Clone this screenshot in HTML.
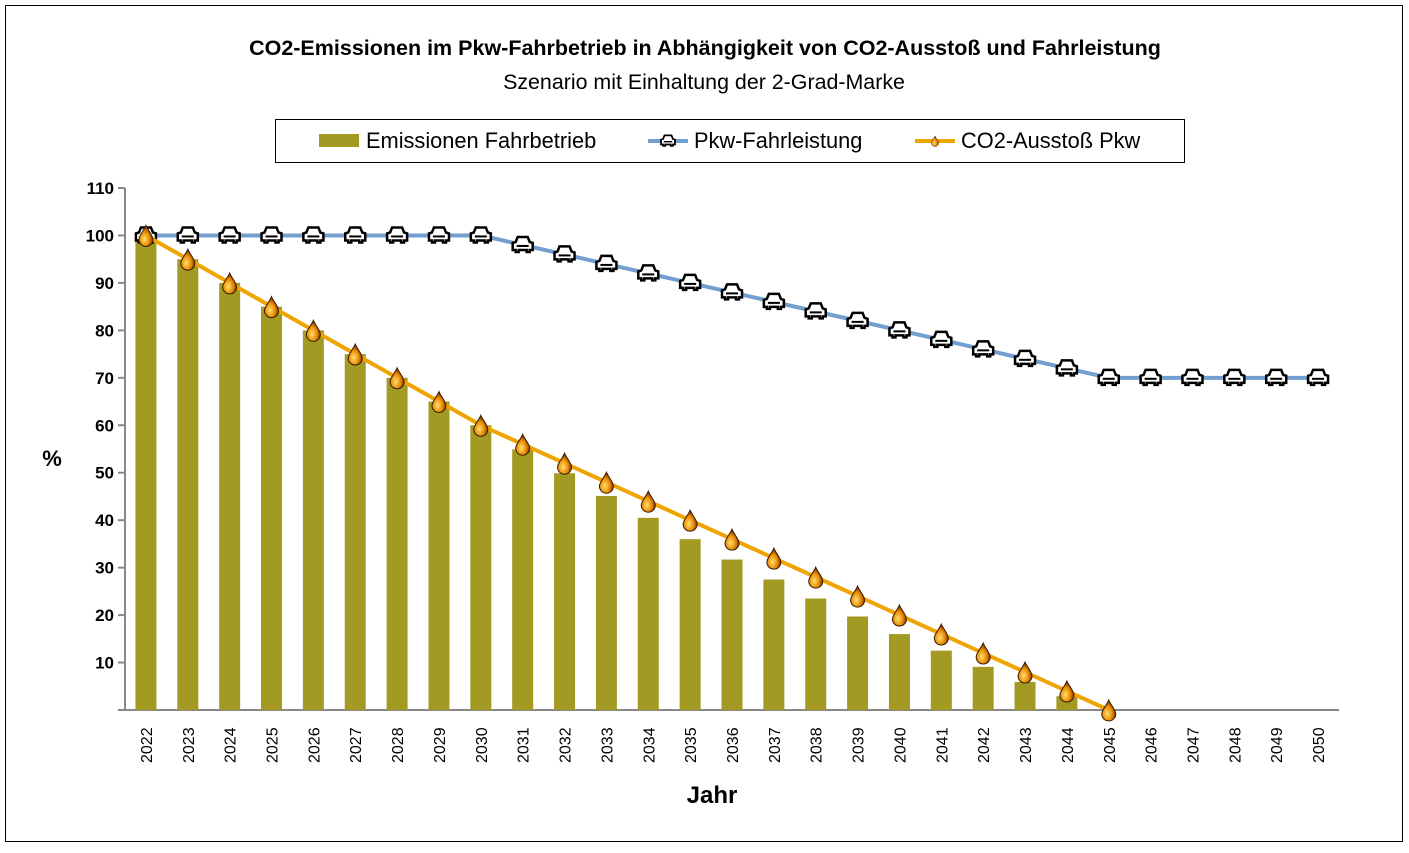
<!DOCTYPE html>
<html><head><meta charset="utf-8"><style>
body{margin:0;background:#fff;font-family:"Liberation Sans",sans-serif}
svg text{font-family:"Liberation Sans",sans-serif}
</style></head><body>
<svg width="1409" height="848" xmlns="http://www.w3.org/2000/svg">
<defs>
<radialGradient id="dropg" cx="0.4" cy="0.65" r="0.6"><stop offset="0" stop-color="#ffe070"/><stop offset="0.6" stop-color="#e88a00"/><stop offset="1" stop-color="#7a3300"/></radialGradient>
<g id="drop"><path d="M0,-10 C2,-5 7,0 7,4 A7,7 0 0 1 -7,4 C-7,0 -2,-5 0,-10Z" fill="url(#dropg)" stroke="#3a1a00" stroke-width="1"/></g>
<g id="car"><path d="M-10,5 L-10,-2 L-7,-3 L-5,-8 L5,-8 L7,-3 L10,-2 L10,5 L7,5 L7,7 L4,7 L4,5 L-4,5 L-4,7 L-7,7 L-7,5Z" fill="#fff" stroke="#000" stroke-width="2.5"/><rect x="-6" y="0" width="12" height="2" fill="#000"/></g>
</defs>
<rect x="5.5" y="5.5" width="1397" height="836" fill="#fff" stroke="#000"/>
<text x="705" y="55" text-anchor="middle" font-size="21.5" font-weight="bold">CO2-Emissionen im Pkw-Fahrbetrieb in Abhängigkeit von CO2-Ausstoß und Fahrleistung</text>
<text x="704" y="89" text-anchor="middle" font-size="21.4">Szenario mit Einhaltung der 2-Grad-Marke</text>
<g>
<rect x="275.5" y="119.5" width="909" height="43" fill="#fff" stroke="#000"/>
<g><rect x="319" y="134" width="40" height="13" fill="#a39a24"/><text x="366" y="148" font-size="21.8">Emissionen Fahrbetrieb</text></g>
<g><line x1="648" y1="141" x2="688" y2="141" stroke="#729fcf" stroke-width="4"/><use href="#car" transform="translate(668,141) scale(0.7)"/><text x="694" y="148" font-size="21.8">Pkw-Fahrleistung</text></g>
<g><line x1="915" y1="141" x2="955" y2="141" stroke="#f0a400" stroke-width="4"/><use href="#drop" transform="translate(935,141) scale(0.5)"/><text x="961" y="148" font-size="21.8">CO2-Ausstoß Pkw</text></g>
</g>
<g id="axes"></g>
<g id="bars"></g>
<g id="lines"></g>
<text x="52" y="466" text-anchor="middle" font-size="22" font-weight="bold">%</text>
<text x="712" y="803" text-anchor="middle" font-size="24" font-weight="bold">Jahr</text>
</svg>
<script>
const years=[2022,2023,2024,2025,2026,2027,2028,2029,2030,2031,2032,2033,2034,2035,2036,2037,2038,2039,2040,2041,2042,2043,2044,2045,2046,2047,2048,2049,2050];
const emissions=[100,95,90,85,80,75,70,65,60,54.9,49.9,45.1,40.5,36,31.7,27.5,23.5,19.7,16,12.5,9.1,5.9,2.9,0,null,null,null,null,null];
const fahrleistung=[100,100,100,100,100,100,100,100,100,98,96,94,92,90,88,86,84,82,80,78,76,74,72,70,70,70,70,70,70];
const co2=[100,95,90,85,80,75,70,65,60,56,52,48,44,40,36,32,28,24,20,16,12,8,4,0,null,null,null,null,null];
const yTicks=[10,20,30,40,50,60,70,80,90,100,110];
const NS="http://www.w3.org/2000/svg";
const L=125,R=1339,T=188,B=710,ymax=110;
const cw=(R-L)/years.length;
const xs=i=>L+cw*(i+0.5);
const ys=v=>B-(v/ymax)*(B-T);
function mk(tag,attrs,parent){const e=document.createElementNS(NS,tag);for(const k in attrs)e.setAttribute(k,attrs[k]);document.getElementById(parent).appendChild(e);return e;}
let e=mk('line',{x1:L,y1:T,x2:L,y2:B,stroke:'#888','stroke-width':2},'axes');


e=mk('line',{x1:L-7,y1:B,x2:R,y2:B,stroke:'#888','stroke-width':2},'axes');


yTicks.forEach(v=>{
 let t=mk('line',{x1:L-7,y1:ys(v),x2:L,y2:ys(v),stroke:'#888','stroke-width':2},'axes');
 
 
 let tx=mk('text',{x:L-11,y:ys(v)+6,'text-anchor':'end','font-size':17,'font-weight':'bold'},'axes');
 tx.textContent=v;
 
 
});
years.forEach((y,i)=>{
 let tx=mk('text',{transform:`translate(${xs(i)+6},${B+53}) rotate(-90)`,'font-size':16},'axes');
 tx.textContent=y;
 
 
 if(emissions[i]!=null&&emissions[i]>0){
  let b=mk('rect',{x:xs(i)-10.5,y:ys(emissions[i]),width:21,height:B-ys(emissions[i]),fill:'#a39a24'},'bars');
  
  
 }
});
function line(arr,color,name){
 const pts=[];arr.forEach((v,i)=>{if(v!=null)pts.push(xs(i)+','+ys(v));});
 let p=mk('polyline',{points:pts.join(' '),fill:'none',stroke:color,'stroke-width':4,'stroke-linejoin':'round'},'lines');
 
 
}
line(fahrleistung,'#729fcf','fahrleistung-line');
fahrleistung.forEach((v,i)=>{let u=mk('use',{href:'#car',transform:`translate(${xs(i)},${ys(v)})`},'lines');
 
 });
line(co2,'#f0a400','co2-line');
co2.forEach((v,i)=>{if(v==null)return;let u=mk('use',{href:'#drop',transform:`translate(${xs(i)},${ys(v)})`},'lines');
 
 });
</script>
</body></html>
